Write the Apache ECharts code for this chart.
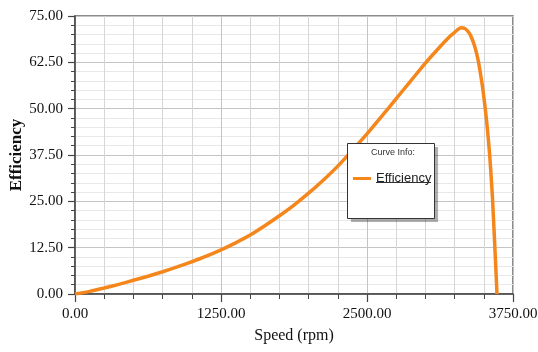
<!DOCTYPE html>
<html>
<head>
<meta charset="utf-8">
<script src="https://cdn.jsdelivr.net/npm/echarts@6/dist/echarts.min.js"></script>
<style>
html,body{margin:0;padding:0;background:#fff;}
#chart{width:538px;height:352px;}
</style>
</head>
<body>
<div id="chart"></div>
<script>
var speeds = [0,125,250,375,500,625,750,875,1000,1125,1250,1375,1500,1625,1750,1875,2000,2125,2250,2375,2500,2625,2750,2875,3000,3125,3200,3250,3305,3340,3375,3400,3425,3450,3475,3500,3525,3550,3575,3600,3613];
var efficiency = [0,0.7,1.6,2.6,3.7,4.8,6.0,7.3,8.7,10.2,11.9,13.8,15.9,18.4,21.1,24.0,27.2,30.7,34.5,38.8,43.2,47.9,52.7,57.5,62.3,66.7,69.2,70.6,71.8,71.6,70.4,68.8,66.5,63.3,58.8,53.3,46.4,37.7,25.5,9.0,0];
var xTicks = {min:0, max:3750, step:1250};
var yTicks = {min:0, max:75, step:12.5};
var seriesName = 'Efficiency';
var legendTitle = 'Curve Info:';
var xTitle = 'Speed (rpm)';
var yTitle = 'Efficiency';

var points = speeds.map(function(s,i){return [s, efficiency[i]];});
var chart = echarts.init(document.getElementById('chart'), null, {renderer:'canvas'});
var serif = '"Liberation Serif","Times New Roman",serif';
var sans = '"Liberation Sans",Arial,sans-serif';
chart.setOption({
  animation:false,
  backgroundColor:'#ffffff',
  grid:{left:75,right:25,top:16,bottom:58,outerBoundsMode:'none',containLabel:false,show:true,borderColor:'#666',borderWidth:1.5,backgroundColor:'#fff'},
  xAxis:{
    type:'value',min:xTicks.min,max:xTicks.max,interval:xTicks.step,
    name:xTitle,nameLocation:'middle',nameGap:34,nameMoveOverlap:false,
    nameTextStyle:{fontFamily:serif,fontSize:16,color:'#111'},
    axisLine:{show:true,lineStyle:{color:'#444',width:1.5}},
    axisTick:{show:true,length:8,lineStyle:{color:'#444',width:1.2}},
    minorTick:{show:true,splitNumber:5,length:5,lineStyle:{color:'#444',width:1}},
    axisLabel:{margin:13,fontFamily:serif,fontSize:15,color:'#111',formatter:function(v){return v.toFixed(2);}},
    splitLine:{show:true,lineStyle:{color:'#c4c4c4',width:1}},
    minorSplitLine:{show:true,lineStyle:{color:'#d6d6d6',width:1}}
  },
  yAxis:{
    type:'value',min:yTicks.min,max:yTicks.max,interval:yTicks.step,
    name:yTitle,nameLocation:'middle',nameGap:50,nameRotate:90,nameMoveOverlap:false,
    nameTextStyle:{fontFamily:serif,fontSize:17,fontWeight:'bold',color:'#111'},
    axisLine:{show:true,lineStyle:{color:'#444',width:1.5}},
    axisTick:{show:true,length:7,lineStyle:{color:'#444',width:1.2}},
    minorTick:{show:true,splitNumber:5,length:4,lineStyle:{color:'#444',width:1}},
    axisLabel:{margin:12,fontFamily:serif,fontSize:15,color:'#111',formatter:function(v){return v.toFixed(2);}},
    splitLine:{show:true,lineStyle:{color:'#c4c4c4',width:1}},
    minorSplitLine:{show:true,lineStyle:{color:'#e8e8e8',width:1}}
  },
  legend:{
    show:true,left:348,top:167,orient:'vertical',
    icon:'rect',itemWidth:18,itemHeight:3,itemGap:4,
    textStyle:{fontFamily:sans,fontSize:13,color:'#222'},
    data:[seriesName],z:20
  },
  graphic:[
    {type:'rect',left:351,top:147,z:9,shape:{width:87,height:75},
     style:{fill:'rgba(0,0,0,0.28)',shadowBlur:2,shadowColor:'rgba(0,0,0,0.2)'}},
    {type:'rect',left:347,top:143,z:10,shape:{width:87,height:75},
     style:{fill:'#fff',stroke:'#333',lineWidth:1}},
    {type:'text',left:371,top:148,z:11,style:{text:legendTitle,fontFamily:sans,fontSize:9,fill:'#333'}},
    {type:'line',z:11,shape:{x1:376,y1:182.5,x2:431,y2:182.5},style:{stroke:'#333',lineWidth:1}}
  ],
  series:[{
    name:seriesName,type:'line',data:points,showSymbol:false,symbol:'none',
    smooth:0.2,
    lineStyle:{color:'#F5861C',width:3.5},itemStyle:{color:'#F5861C'},z:5
  }]
});
</script>
</body>
</html>
